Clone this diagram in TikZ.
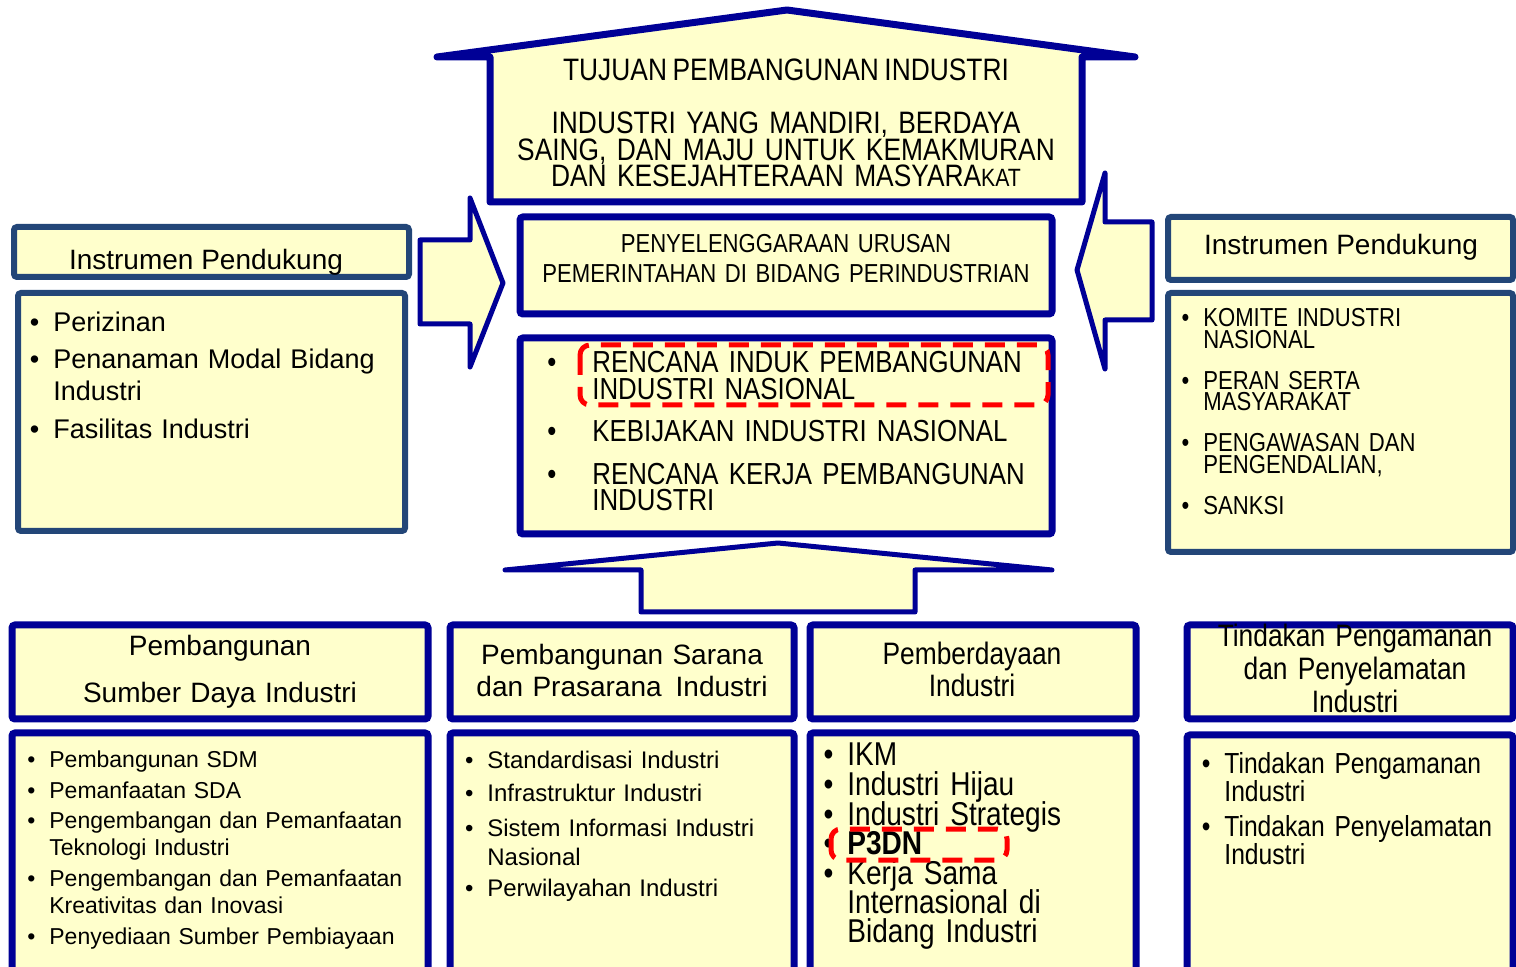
\documentclass[tikz,border=0pt]{standalone}
\usepackage{fontspec}
\setmainfont{Liberation Sans}
\newfontfamily\narrowfont[FakeStretch=0.85, WordSpace=0.75]{Liberation Sans}
\definecolor{paleyellow}{RGB}{255,255,204}
\definecolor{navyline}{RGB}{0,0,150}
\definecolor{steelline}{RGB}{35,70,120}
\definecolor{markred}{RGB}{255,0,0}
\newcommand{\setfs}[2]{\fontsize{#1}{#2}\selectfont\lineskiplimit=-40pt\relax}
\newcommand{\bul}[1][7pt]{\leavevmode\llap{\textbullet\hspace{#1}}}
\tikzset{
  nbox/.style={draw=navyline, fill=paleyellow, line width=3.5pt, rounded corners=1.5pt},
  sbox/.style={draw=steelline, fill=paleyellow, line width=3pt, rounded corners=1.5pt},
  bigarrow/.style={draw=navyline, fill=paleyellow, line width=2.5pt, line join=round, line cap=round},
  redmark/.style={draw=markred, line width=2.5pt, dash pattern=on 10pt off 6pt, rounded corners=5pt},
  lbl/.style={inner sep=0pt, text=black},
  hdr/.style={lbl, anchor=base, align=center},
  lst/.style={lbl, anchor=base west, align=left},
}
\begin{document}
\begin{tikzpicture}[x=0.5pt, y=-0.5pt]
  \path[use as bounding box] (0,0) rectangle (1516,967);
  \clip (0,0) rectangle (1516,967);
  \draw[nbox, rounded corners=0pt, line join=round] (437,57) -- (787,10) -- (1135,57) -- (1082,57) -- (1082,202) -- (490,202) -- (490,57) -- cycle;
  \node[lbl, anchor=base, font={\narrowfont\setfs{15.5}{13.25}}] (tujuan) at (786,81) {TUJUAN PEMBANGUNAN INDUSTRI};
  \node[hdr, text width=300pt, font={\narrowfont\setfs{15.5}{13.25}}] (visi) at (786,134)
    {INDUSTRI YANG MANDIRI, BERDAYA\\ SAING, DAN MAJU UNTUK KEMAKMURAN\\ DAN KESEJAHTERAAN MASYARA{\setfs{12.5}{13.25}KAT}};

  \draw[bigarrow] (420,240) -- (470,240) -- (470,198) -- (503,283) -- (470,367) -- (470,324) -- (420,324) -- cycle;
  \draw[bigarrow] (1152,222) -- (1105,222) -- (1105,173) -- (1077,270) -- (1105,369) -- (1105,320) -- (1152,320) -- cycle;
  \draw[bigarrow] (505,570) -- (778,543) -- (1052,570) -- (915,570) -- (915,612) -- (641,612) -- (641,570) -- cycle;

  \draw[nbox] (520,217) rectangle (1052,314);
  \node[hdr, text width=260pt, font={\narrowfont\setfs{13}{15}}] (urusan) at (786,253)
    {PENYELENGGARAAN URUSAN\\ PEMERINTAHAN DI BIDANG PERINDUSTRIAN};
  \draw[nbox] (520,338) rectangle (1052,534);
  \node[lst, text width=225pt, font={\narrowfont\setfs{15.2}{13.25}}] (rencana) at (592,373)
    {\bul[18pt]RENCANA INDUK PEMBANGUNAN\\ INDUSTRI NASIONAL\\[8pt]
     \bul[18pt]KEBIJAKAN INDUSTRI NASIONAL\\[8pt]
     \bul[18pt]RENCANA KERJA PEMBANGUNAN\\ INDUSTRI};
  \draw[redmark] (580,345) rectangle (1048,405);

  \draw[sbox] (14,227) rectangle (409,277);
  \node[lbl, anchor=base, font=\setfs{14}{16}] (instL) at (206,270) {Instrumen Pendukung};
  \draw[sbox] (18,293) rectangle (405,531);
  \node[lst, text width=175pt, font=\setfs{13.5}{16}] (listL) at (53,332)
    {\bul Perizinan\\[2.5pt] \bul Penanaman Modal Bidang\\ Industri\\[3pt] \bul Fasilitas Industri};

  \draw[sbox] (1168,217) rectangle (1513,280);
  \node[lbl, anchor=base, font=\setfs{14}{16}] (instR) at (1341,255) {Instrumen Pendukung};
  \draw[sbox] (1168,293) rectangle (1513,552);
  \node[lst, text width=150pt, font={\narrowfont\setfs{13}{10.75}}] (listR) at (1203,327)
    {\bul KOMITE INDUSTRI\\ NASIONAL\\[9.75pt] \bul PERAN SERTA\\ MASYARAKAT\\[9.75pt]
     \bul PENGAWASAN DAN\\ PENGENDALIAN,\\[9.75pt] \bul SANKSI};

  \draw[nbox] (12,625) rectangle (428,719);
  \node[hdr, text width=200pt, font=\setfs{14}{23.5}] (sdi) at (220,656) {Pembangunan\\ Sumber Daya Industri};
  \draw[nbox] (12,733) rectangle (428,990);
  \node[lst, text width=190pt, font=\setfs{11.5}{13.25}] (listSdi) at (49,768)
    {\bul Pembangunan SDM\\[2pt] \bul Pemanfaatan SDA\\[2pt] \bul Pengembangan dan Pemanfaatan\\ Teknologi Industri\\[2.5pt]
     \bul Pengembangan dan Pemanfaatan\\ Kreativitas dan Inovasi\\[2.5pt] \bul Penyediaan Sumber Pembiayaan};

  \draw[nbox] (450,625) rectangle (794,719);
  \node[hdr, text width=165pt, font=\setfs{14}{16}] (sarana) at (622,665) {Pembangunan Sarana\\ dan Prasarana\,\ Industri};
  \draw[nbox] (450,733) rectangle (794,990);
  \node[lst, text width=150pt, font=\setfs{12}{14.5}] (listSarana) at (487,769)
    {\bul Standardisasi Industri\\[2pt] \bul Infrastruktur Industri\\[3pt] \bul Sistem Informasi Industri\\ Nasional\\[1pt] \bul Perwilayahan Industri};

  \draw[nbox] (810,625) rectangle (1136,719);
  \node[hdr, text width=155pt, font={\narrowfont\setfs{15.5}{16}}] (daya) at (972,665) {Pemberdayaan\\ Industri};
  \draw[nbox] (810,733) rectangle (1136,990);
  \node[lst, text width=140pt, font={\narrowfont\setfs{16.5}{14.75}}] (listDaya) at (847,766)
    {\bul IKM\\ \bul Industri Hijau\\ \bul Industri Strategis\\ \bul\textbf{P3DN}\\ \bul Kerja Sama\\ Internasional di\\ Bidang Industri};
  \draw[redmark] (831,829) rectangle (1007,860);

  \draw[nbox] (1187,625) rectangle (1513,719);
  \node[hdr, text width=160pt, font={\narrowfont\setfs{15.5}{16.25}}] (aman) at (1355,647) {Tindakan Pengamanan\\ dan Penyelamatan\\ Industri};
  \draw[nbox] (1187,735) rectangle (1513,990);
  \node[lst, text width=140pt, font={\narrowfont\setfs{14.5}{14.25}}] (listAman) at (1224,773)
    {\bul Tindakan Pengamanan\\ Industri\\[3.25pt] \bul Tindakan Penyelamatan\\ Industri};
\end{tikzpicture}
\end{document}
